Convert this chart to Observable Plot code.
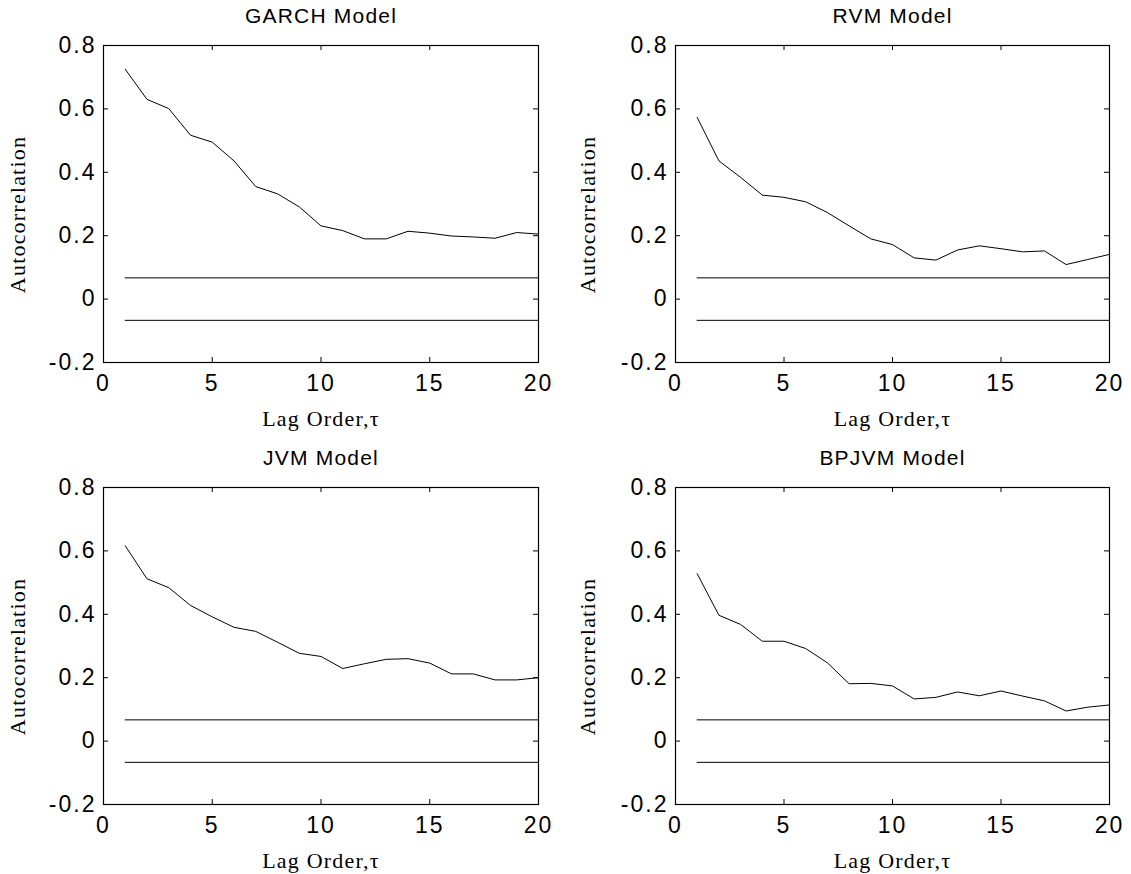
<!DOCTYPE html>
<html>
<head>
<meta charset="utf-8">
<script src="https://cdn.jsdelivr.net/npm/d3@7"></script>
<script src="https://cdn.jsdelivr.net/npm/@observablehq/plot@0.6"></script>
<style>
  html, body { margin: 0; padding: 0; background: #fff; }
  #chart { position: relative; width: 1131px; height: 874px; background: #fff; }
  #chart > div { position: absolute; }
  svg { overflow: visible; }
</style>
</head>
<body>
<div id="chart"></div>
<script>
// ---- data ----
const lags = [1,2,3,4,5,6,7,8,9,10,11,12,13,14,15,16,17,18,19,20];
const garch = [0.725,0.630,0.601,0.517,0.495,0.436,0.355,0.332,0.291,0.231,0.216,0.190,0.190,0.214,0.208,0.199,0.196,0.192,0.210,0.205];
const rvm   = [0.573,0.436,0.384,0.328,0.321,0.307,0.273,0.231,0.190,0.172,0.130,0.123,0.155,0.168,0.159,0.149,0.152,0.109,0.125,0.141];
const jvm   = [0.616,0.512,0.484,0.428,0.392,0.359,0.346,0.312,0.277,0.267,0.229,0.244,0.258,0.260,0.246,0.212,0.212,0.193,0.193,0.200];
const bpjvm = [0.528,0.397,0.368,0.315,0.315,0.292,0.247,0.181,0.182,0.174,0.133,0.138,0.155,0.143,0.158,0.142,0.127,0.095,0.107,0.114];
const bounds = [0.067, -0.067];
const titles = ["GARCH Model", "RVM Model", "JVM Model", "BPJVM Model"];
const xTicks = [0, 5, 10, 15, 20];
const xTickLabels = ["0", "5", "10", "15", "20"];
const yTicks = [-0.2, 0, 0.2, 0.4, 0.6, 0.8];
const yTickLabels = ["-0.2", "0", "0.2", "0.4", "0.6", "0.8"];
const xLabel = "Lag Order,\u03c4";
const yLabel = "Autocorrelation";

// ---- layout ----
const panels = [
  {series: garch, title: titles[0], left: 0,   top: 0,   width: 565, height: 437, mL: 103, mR: 27, mT: 45, mB: 75, labelX: 17.5},
  {series: rvm,   title: titles[1], left: 565, top: 0,   width: 566, height: 437, mL: 110, mR: 22, mT: 45, mB: 75, labelX: 22.5},
  {series: jvm,   title: titles[2], left: 0,   top: 437, width: 565, height: 437, mL: 103, mR: 27, mT: 50, mB: 70, labelX: 17.5},
  {series: bpjvm, title: titles[3], left: 565, top: 437, width: 566, height: 437, mL: 110, mR: 22, mT: 50, mB: 70, labelX: 22.5}
];

const SANS = "'Liberation Sans', Arial, Helvetica, sans-serif";
const SERIF = "'Liberation Serif', 'Times New Roman', serif";
const container = document.getElementById("chart");
const yDom = [yTicks[0], yTicks[yTicks.length - 1]];
const xDom = [xTicks[0], xTicks[xTicks.length - 1]];

for (const p of panels) {
  const fw = p.width - p.mL - p.mR;
  const fh = p.height - p.mT - p.mB;
  const tickLen = 5;
  const ty = tickLen * (yDom[1] - yDom[0]) / fh;  // tick length in y data units
  const tx = tickLen * (xDom[1] - xDom[0]) / fw;  // tick length in x data units
  const data = lags.map((x, i) => ({x, y: p.series[i]}));
  const plot = Plot.plot({
    width: p.width,
    height: p.height,
    marginLeft: p.mL,
    marginRight: p.mR,
    marginTop: p.mT,
    marginBottom: p.mB,
    style: {background: "transparent", color: "#000", fontFamily: SANS},
    x: {domain: xDom},
    y: {domain: yDom},
    marks: [
      // inward ticks on all four sides
      Plot.ruleX(xTicks, {x: d => d, y1: yDom[0], y2: yDom[0] + ty, stroke: "#000"}),
      Plot.ruleX(xTicks, {x: d => d, y1: yDom[1], y2: yDom[1] - ty, stroke: "#000"}),
      Plot.ruleY(yTicks, {y: d => d, x1: xDom[0], x2: xDom[0] + tx, stroke: "#000"}),
      Plot.ruleY(yTicks, {y: d => d, x1: xDom[1], x2: xDom[1] - tx, stroke: "#000"}),
      Plot.frame({stroke: "#000", strokeWidth: 1.2}),
      Plot.axisX(xTicks, {anchor: "bottom", tickSize: 0, tickPadding: 12, fontSize: 23,
        tickFormat: (d) => xTickLabels[xTicks.indexOf(d)], label: null}),
      Plot.axisY(yTicks, {anchor: "left", tickSize: 0, tickPadding: 7, fontSize: 23,
        tickFormat: (d) => yTickLabels[yTicks.indexOf(d)], label: null}),
      // confidence bounds
      Plot.ruleY(bounds, {y: d => d, x1: lags[0], x2: lags[lags.length - 1], stroke: "#000", strokeWidth: 1}),
      // autocorrelation series
      Plot.line(data, {x: "x", y: "y", stroke: "#000", strokeWidth: 1}),
      // title
      Plot.text([p.title], {frameAnchor: "top", dy: -29, lineAnchor: "middle", fontSize: 21, fontFamily: SANS, fill: "#000"}),
      // x label
      Plot.text([xLabel], {frameAnchor: "bottom", dy: 56, lineAnchor: "middle", fontSize: 22, fontFamily: SERIF, fill: "#000"}),
      // y label
      Plot.text([yLabel], {frameAnchor: "left", textAnchor: "middle", rotate: -90, dx: -(p.mL - p.labelX), dy: 10.5, lineAnchor: "middle", fontSize: 22, fontFamily: SERIF, fill: "#000"})
    ]
  });
  const svg = d3.select(plot);
  svg.selectAll('[aria-label="x-axis tick label"] text, [aria-label="y-axis tick label"] text').style("letter-spacing", "2px");
  svg.selectAll('[aria-label="text"] text').style("letter-spacing", "1.2px");
  const div = document.createElement("div");
  div.style.left = p.left + "px";
  div.style.top = p.top + "px";
  div.appendChild(plot);
  container.appendChild(div);
}
</script>
</body>
</html>
